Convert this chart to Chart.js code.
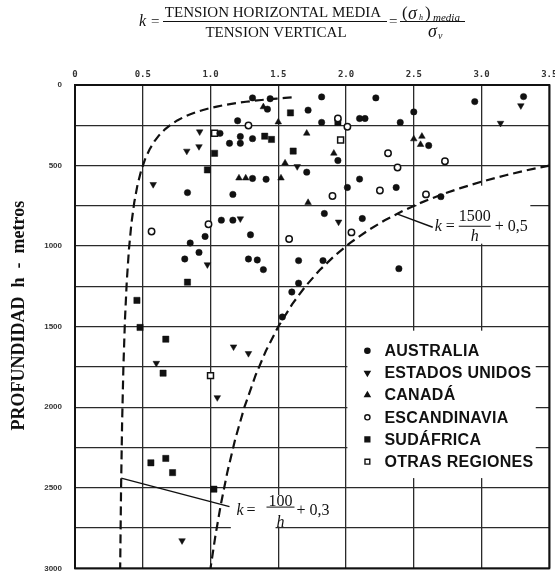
<!DOCTYPE html>
<html>
<head>
<meta charset="utf-8">
<script src="https://cdn.jsdelivr.net/npm/chart.js@4.4.1/dist/chart.umd.min.js"></script>
<style>
  html, body { margin: 0; padding: 0; background: #fff; }
  #wrap { position: relative; width: 555px; height: 574px; }
</style>
</head>
<body>
<div id="wrap"><canvas id="c" width="555" height="574"></canvas></div>
<script>
// Axis tick labels
const xTickLabels = ['0', '0.5', '1.0', '1.5', '2.0', '2.5', '3.0', '3.5'];
const yTickLabels = ['0', '500', '1000', '1500', '2000', '2500', '3000'];

// Measured stress ratios: [k, depth h in metres]
const australia = [
  [1.31, 80], [1.44, 85], [1.42, 150], [1.20, 222], [1.07, 300], [1.22, 320], [1.31, 333],
  [1.14, 362], [1.22, 362], [1.31, 580], [1.41, 585], [1.82, 74], [2.22, 80], [1.72, 156],
  [1.82, 232], [2.10, 208], [2.14, 208], [2.40, 232], [2.50, 167], [1.94, 469], [1.71, 541],
  [2.01, 636], [2.10, 584], [2.37, 636], [2.95, 103], [3.31, 72], [2.61, 376], [2.70, 693],
  [1.84, 798], [2.12, 829], [1.65, 1090], [1.83, 1090], [2.39, 1140], [1.65, 1230],
  [1.60, 1285], [1.53, 1440], [0.83, 668], [1.165, 679], [1.08, 839], [1.165, 839],
  [1.295, 930], [0.96, 940], [0.85, 981], [0.915, 1039], [0.81, 1080], [1.28, 1080],
  [1.345, 1086], [1.39, 1146]
];
const estadosUnidos = [
  [0.92, 290], [0.915, 382], [0.825, 410], [3.29, 128], [3.14, 237], [1.64, 506], [1.945, 850],
  [0.577, 617], [1.22, 830], [0.977, 1115], [1.17, 1625], [1.28, 1666], [0.60, 1727],
  [1.05, 1940], [0.79, 2828]
];
const canada = [
  [1.39, 136], [1.50, 230], [1.21, 578], [1.26, 578], [1.55, 485], [1.52, 578], [1.71, 300],
  [1.91, 424], [2.50, 335], [2.56, 319], [2.55, 370], [1.72, 730]
];
const escandinavia = [
  [1.28, 251], [1.94, 208], [2.01, 259], [2.31, 424], [2.38, 512], [2.25, 655], [2.73, 473],
  [2.59, 679], [1.90, 689], [2.04, 915], [1.58, 956], [0.565, 909], [0.985, 864]
];
const sudafrica = [
  [1.40, 318], [1.45, 338], [1.03, 424], [0.977, 527], [1.59, 173], [1.94, 232], [1.61, 410],
  [0.83, 1224], [0.457, 1337], [0.48, 1505], [0.67, 1578], [0.65, 1789], [0.56, 2345],
  [0.67, 2318], [0.72, 2406], [1.025, 2509]
];
const otrasRegiones = [[1.03, 300], [1.96, 341], [1.00, 1804]];

// Limit curves k = a / h + b
const curveHigh = { a: 1500, b: 0.5 };
const curveLow = { a: 100, b: 0.3 };
const curveHighDepths = [500, 530, 560, 600, 640, 680, 730, 780, 840, 900, 980, 1060, 1150,
  1250, 1360, 1500, 1650, 1800, 2000, 2200, 2400, 2600, 2800, 3000];
const curveLowDepths = [77, 80, 84, 88, 93, 98, 104, 110, 117, 125, 134, 144, 155, 168, 183,
  200, 220, 245, 275, 310, 350, 400, 460, 530, 620, 730, 860, 1020, 1220, 1460, 1750, 2100,
  2500, 3000];

const toPts = arr => arr.map(([k, h]) => ({ x: k, y: h }));
const curvePts = (depths, c) => depths.map(h => ({ x: c.a / h + c.b, y: h }));

const INK = '#111';
const serif = '"Liberation Serif", "Times New Roman", serif';
const sans = '"Liberation Sans", Arial, sans-serif';

const markerSeries = [
  { label: 'AUSTRALIA', data: australia, pointStyle: 'circle', radius: 3.2, rotation: 0, open: false, legendRadius: 2.6 },
  { label: 'ESTADOS UNIDOS', data: estadosUnidos, pointStyle: 'triangle', radius: 3.8, rotation: 180, open: false, legendRadius: 3 },
  { label: 'CANADÁ', data: canada, pointStyle: 'triangle', radius: 3.8, rotation: 0, open: false, legendRadius: 3 },
  { label: 'ESCANDINAVIA', data: escandinavia, pointStyle: 'circle', radius: 3.2, rotation: 0, open: true, legendRadius: 2.6 },
  { label: 'SUDÁFRICA', data: sudafrica, pointStyle: 'rect', radius: 4.4, rotation: 0, open: false, legendRadius: 3.4 },
  { label: 'OTRAS REGIONES', data: otrasRegiones, pointStyle: 'rect', radius: 4.2, rotation: 0, open: true, legendRadius: 3.4 }
];

const pointDatasets = markerSeries.map(s => ({
  label: s.label,
  data: toPts(s.data),
  pointStyle: s.pointStyle,
  rotation: s.rotation,
  pointRadius: s.radius,
  pointBackgroundColor: s.open ? '#fff' : INK,
  pointBorderColor: INK,
  pointBorderWidth: s.open ? 1.5 : 0.5,
  showLine: false,
  legendRadius: s.legendRadius,
  open: s.open
}));

const curveStyle = {
  showLine: true, borderColor: INK, borderWidth: 2.2, borderDash: [9, 5],
  pointRadius: 0, pointHoverRadius: 0, fill: false, tension: 0
};

// White patches behind the legend and the curve labels (data coordinates)
const legendBox = { k0: 2.01, k1: 3.40, h0: 1525, h1: 2440 };
const labelPatches = [
  { k0: 2.52, k1: 3.36, h0: 625, h1: 985 },
  { k0: 1.15, k1: 1.48, h0: 2545, h1: 2790 },
  { k0: 1.48, k1: 1.96, h0: 2545, h1: 2740 }
];
// Leader lines: from a depth on the curve to the label
const highLeader = { fromDepth: 800, toK: 2.64, toH: 883 };
const lowLeader = { fromDepth: 2440, toK: 1.14, toH: 2617 };

function px(chart, k, h) {
  return { x: chart.scales.x.getPixelForValue(k), y: chart.scales.y.getPixelForValue(h) };
}

function drawCurveLabel(ctx, ex, ey, num, plus, o) {
  ctx.fillStyle = INK;
  ctx.textBaseline = 'middle';
  ctx.textAlign = 'left';
  ctx.font = 'italic 16px ' + serif;
  ctx.fillText('k', ex + o.k, ey + o.main);
  ctx.font = '16px ' + serif;
  ctx.fillText('=', ex + o.eq, ey + o.main);
  ctx.textAlign = 'center';
  ctx.fillText(num, ex + o.frac, ey + o.num);
  ctx.font = 'italic 16px ' + serif;
  ctx.fillText('h', ex + o.frac, ey + o.den);
  ctx.fillRect(ex + o.frac - o.barHalf, ey + o.bar, o.barHalf * 2, 1);
  ctx.textAlign = 'left';
  ctx.font = '16px ' + serif;
  ctx.fillText(plus, ex + o.plus, ey + o.main);
}

const decorations = {
  id: 'decorations',
  beforeDatasetsDraw(chart) {
    const ctx = chart.ctx;
    ctx.save();
    ctx.fillStyle = '#fff';
    [legendBox, ...labelPatches].forEach(b => {
      const a = px(chart, b.k0, b.h0), c = px(chart, b.k1, b.h1);
      ctx.fillRect(a.x, a.y, c.x - a.x, c.y - a.y);
    });
    ctx.restore();
  },
  afterDatasetsDraw(chart) {
    const ctx = chart.ctx;
    const area = chart.chartArea;
    ctx.save();

    // frame
    ctx.strokeStyle = INK;
    ctx.lineWidth = 2;
    ctx.strokeRect(area.left, area.top, area.right - area.left, area.bottom - area.top);

    // leader lines
    ctx.lineWidth = 1.4;
    [[highLeader, curveHigh], [lowLeader, curveLow]].forEach(([l, c]) => {
      const a = px(chart, c.a / l.fromDepth + c.b, l.fromDepth);
      const b = px(chart, l.toK, l.toH);
      ctx.beginPath();
      ctx.moveTo(a.x, a.y);
      ctx.lineTo(b.x, b.y);
      ctx.stroke();
    });

    // curve labels
    const eh = px(chart, highLeader.toK, highLeader.toH);
    drawCurveLabel(ctx, eh.x, eh.y, String(curveHigh.a), '+ ' + String(curveHigh.b).replace('.', ','),
      { k: 2, eq: 13, frac: 42, num: -10, den: 10, bar: -1.5, barHalf: 16, plus: 62, main: 0 });
    const el = px(chart, lowLeader.toK, lowLeader.toH);
    drawCurveLabel(ctx, el.x, el.y, String(curveLow.a), '+ ' + String(curveLow.b).replace('.', ','),
      { k: 7, eq: 17, frac: 51, num: -5, den: 16, bar: 0, barHalf: 14, plus: 67, main: 4 });

    // legend
    const lb = px(chart, legendBox.k0, legendBox.h0);
    const mx = lb.x + 20, tx = lb.x + 37;
    let y = lb.y + 20;
    chart.data.datasets.forEach(ds => {
      if (!ds.legendRadius) return;
      ctx.fillStyle = ds.open ? '#fff' : INK;
      ctx.strokeStyle = INK;
      Chart.helpers.drawPoint(ctx, {
        pointStyle: ds.pointStyle, rotation: ds.rotation, radius: ds.legendRadius,
        borderWidth: ds.open ? 1.3 : 0.5
      }, mx, y);
      ctx.fillStyle = INK;
      ctx.font = 'bold 16px ' + sans;
      ctx.textAlign = 'left';
      ctx.textBaseline = 'middle';
      try { ctx.letterSpacing = '0.3px'; } catch (e) {}
      ctx.fillText(ds.label, tx, y + 1);
      try { ctx.letterSpacing = '0px'; } catch (e) {}
      y += 22.2;
    });

    ctx.restore();
  },
  afterDraw(chart) {
    const ctx = chart.ctx;
    const area = chart.chartArea;
    ctx.save();
    ctx.fillStyle = INK;

    // y axis title
    ctx.translate(19, (area.top + area.bottom) / 2 - 11);
    ctx.rotate(-Math.PI / 2);
    ctx.font = 'bold 18px ' + serif;
    ctx.textAlign = 'center';
    ctx.textBaseline = 'middle';
    ctx.fillText('PROFUNDIDAD  h  -  metros', 0, 0);
    ctx.setTransform(1, 0, 0, 1, 0, 0);

    // definition of k
    ctx.textBaseline = 'middle';
    ctx.textAlign = 'left';
    ctx.font = 'italic 16px ' + serif;
    ctx.fillText('k', 139, 22);
    ctx.font = '15px ' + serif;
    ctx.fillText('=', 151, 22);
    ctx.textAlign = 'center';
    ctx.fillText('TENSION HORIZONTAL MEDIA', 273, 13);
    ctx.fillText('TENSION VERTICAL', 276, 33);
    ctx.fillRect(163, 21, 224, 1);
    ctx.textAlign = 'left';
    ctx.fillText('=', 389, 22);
    ctx.font = '17px ' + serif;
    ctx.fillText('(', 402, 14);
    ctx.font = 'italic 18px ' + serif;
    ctx.fillText('σ', 408, 14);
    ctx.font = 'italic 8px ' + serif;
    ctx.fillText('h', 419, 18);
    ctx.font = '17px ' + serif;
    ctx.fillText(')', 425, 14);
    ctx.font = 'italic 11px ' + serif;
    ctx.fillText('media', 433, 18);
    ctx.fillRect(400, 21, 65, 1);
    ctx.font = 'italic 18px ' + serif;
    ctx.fillText('σ', 428, 32);
    ctx.font = 'italic 10px ' + serif;
    ctx.fillText('v', 438, 36);
    ctx.restore();
  }
};

new Chart(document.getElementById('c'), {
  type: 'scatter',
  data: {
    datasets: [
      ...pointDatasets,
      { label: 'curveHigh', data: curvePts(curveHighDepths, curveHigh), ...curveStyle },
      { label: 'curveLow', data: curvePts(curveLowDepths, curveLow), ...curveStyle }
    ]
  },
  options: {
    responsive: false,
    devicePixelRatio: 1,
    animation: false,
    events: [],
    layout: { padding: { left: 0, right: 4, top: 0, bottom: 2 } },
    plugins: { legend: { display: false }, tooltip: { enabled: false } },
    scales: {
      x: {
        type: 'linear', position: 'top', min: 0, max: 3.5,
        ticks: {
          stepSize: 0.5, autoSkip: false, maxRotation: 0, padding: 5, color: '#333',
          font: { family: '"DejaVu Sans Mono", monospace', size: 9, weight: 'bold' },
          callback: (v, i) => xTickLabels[i]
        },
        grid: { color: '#2a2a2a', lineWidth: 1.3, drawTicks: false },
        border: { display: false },
        afterFit: s => { s.height = 85; s.paddingLeft = 0; s.paddingRight = 0; }
      },
      y: {
        type: 'linear', reverse: true, min: 0, max: 3000,
        ticks: {
          stepSize: 250, autoSkip: false, padding: 13, color: '#333',
          font: { family: sans, size: 8, weight: 'bold' },
          callback: v => (v % 500 === 0 ? yTickLabels[v / 500] : '')
        },
        grid: { color: '#2a2a2a', lineWidth: 1.3, drawTicks: false },
        border: { display: false },
        afterFit: s => { s.width = 75; s.paddingTop = 0; s.paddingBottom = 0; }
      }
    }
  },
  plugins: [decorations]
});
</script>
</body>
</html>
